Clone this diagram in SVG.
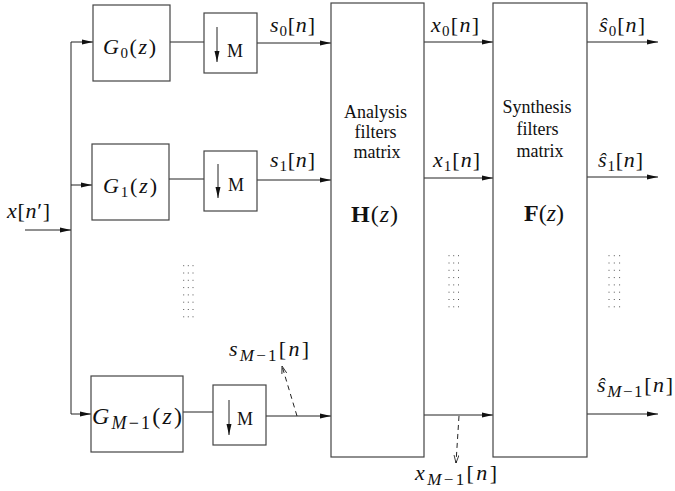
<svg xmlns="http://www.w3.org/2000/svg" width="675" height="491" viewBox="0 0 675 491">
<style>
.box{fill:#fff;stroke:#444;stroke-width:1.2}
.ln{fill:none;stroke:#222;stroke-width:1}
.dash{fill:none;stroke:#222;stroke-width:1;stroke-dasharray:5 4}
.dots{fill:none;stroke:#555;stroke-width:1;stroke-dasharray:1 6.3}
.m{font-family:"Liberation Serif","Times New Roman",serif;font-size:22px;fill:#111}
.i{font-style:italic}
.sub{font-size:15px}
.sub2{font-size:17px}
.t{font-family:"Liberation Serif","Times New Roman",serif;font-size:18px;fill:#111;text-anchor:middle}
.M{font-family:"Liberation Serif","Times New Roman",serif;font-size:18px;fill:#111}
</style>
<defs>
<marker id="ah" markerUnits="userSpaceOnUse" markerWidth="11" markerHeight="6" refX="11" refY="3" orient="auto">
<path d="M0,0.5 L11,3 L0,5.5 z" fill="#111"/>
</marker>
<marker id="oh" markerUnits="userSpaceOnUse" markerWidth="8" markerHeight="6" refX="8" refY="3" orient="auto">
<path d="M0,0.5 L8,3 L0,5.5" fill="none" stroke="#111" stroke-width="0.8"/>
</marker>
</defs>
<rect width="675" height="491" fill="#fff"/>

<g id="connectors">
<line class="ln" x1="25" y1="230" x2="71" y2="230" marker-end="url(#ah)"/>
<line class="ln" x1="71" y1="42" x2="71" y2="414"/>
<line class="ln" x1="71" y1="42" x2="93" y2="42" marker-end="url(#ah)"/>
<line class="ln" x1="71" y1="185" x2="92" y2="185" marker-end="url(#ah)"/>
<line class="ln" x1="71" y1="414" x2="91" y2="414" marker-end="url(#ah)"/>
<line class="ln" x1="170" y1="42" x2="204" y2="42"/>
<line class="ln" x1="169" y1="179" x2="204" y2="179"/>
<line class="ln" x1="183" y1="412" x2="213" y2="412"/>
<line class="ln" x1="257" y1="43" x2="331" y2="43" marker-end="url(#ah)"/>
<line class="ln" x1="257" y1="180" x2="331" y2="180" marker-end="url(#ah)"/>
<line class="ln" x1="266" y1="416" x2="331" y2="416" marker-end="url(#ah)"/>
<line class="ln" x1="424" y1="42" x2="493" y2="42" marker-end="url(#ah)"/>
<line class="ln" x1="424" y1="178" x2="493" y2="178" marker-end="url(#ah)"/>
<line class="ln" x1="424" y1="415" x2="493" y2="415" marker-end="url(#ah)"/>
<line class="ln" x1="587" y1="42" x2="658" y2="42" marker-end="url(#ah)"/>
<line class="ln" x1="587" y1="177" x2="658" y2="177" marker-end="url(#ah)"/>
<line class="ln" x1="587" y1="414" x2="658" y2="414" marker-end="url(#ah)"/>
<line class="dash" x1="297" y1="416" x2="282" y2="366" marker-end="url(#oh)"/>
<line class="dash" x1="459" y1="416" x2="456" y2="463" marker-end="url(#oh)"/>
</g>

<g id="node-G0">
<rect class="box" x="93" y="5" width="77" height="76"/>
<text class="m" x="103" y="54" textLength="53"><tspan class="i">G</tspan><tspan class="sub" dy="4">0</tspan><tspan dy="-4">(</tspan><tspan class="i">z</tspan>)</text>
</g>
<g id="node-G1">
<rect class="box" x="92" y="144" width="77" height="76"/>
<text class="m" x="103" y="193" textLength="54"><tspan class="i">G</tspan><tspan class="sub" dy="4">1</tspan><tspan dy="-4">(</tspan><tspan class="i">z</tspan>)</text>
</g>
<g id="node-GM1">
<rect class="box" x="91" y="376" width="92" height="76"/>
<text class="m" x="92" y="424" textLength="90" style="font-size:24px"><tspan class="i">G</tspan><tspan class="sub2" dy="5" style="font-size:18px"><tspan class="i">M</tspan>−1</tspan><tspan dy="-5">(</tspan><tspan class="i">z</tspan>)</text>
</g>

<g id="node-D0">
<rect class="box" x="204" y="13" width="53" height="60"/>
<line class="ln" x1="217" y1="27" x2="217" y2="62" marker-end="url(#ah)"/>
<text class="M" x="227" y="57">M</text>
</g>
<g id="node-D1">
<rect class="box" x="204" y="151" width="53" height="60"/>
<line class="ln" x1="218" y1="164" x2="218" y2="198" marker-end="url(#ah)"/>
<text class="M" x="228" y="191">M</text>
</g>
<g id="node-DM1">
<rect class="box" x="213" y="385" width="53" height="60"/>
<line class="ln" x1="229" y1="400" x2="229" y2="435" marker-end="url(#ah)"/>
<text class="M" x="237" y="425">M</text>
</g>

<g id="node-H">
<rect class="box" x="331" y="3" width="93" height="454"/>
<text class="t" x="375.5" y="118">Analysis</text>
<text class="t" x="375.5" y="138">filters</text>
<text class="t" x="377" y="158">matrix</text>
<text class="m" x="351" y="222" textLength="47" style="font-size:24px"><tspan font-weight="bold">H</tspan>(<tspan class="i">z</tspan>)</text>
</g>
<g id="node-F">
<rect class="box" x="493" y="3" width="94" height="454"/>
<text class="t" x="537" y="113">Synthesis</text>
<text class="t" x="537.5" y="135">filters</text>
<text class="t" x="540" y="157">matrix</text>
<text class="m" x="524" y="221" textLength="40" style="font-size:24px"><tspan font-weight="bold">F</tspan>(<tspan class="i">z</tspan>)</text>
</g>

<g id="labels">
<text class="m" x="7" y="218" textLength="43"><tspan class="i">x</tspan>[<tspan class="i">n</tspan>′]</text>
<text class="m" x="270" y="32" textLength="45"><tspan class="i">s</tspan><tspan class="sub" dy="4">0</tspan><tspan dy="-4">[</tspan><tspan class="i">n</tspan>]</text>
<text class="m" x="270" y="167" textLength="45"><tspan class="i">s</tspan><tspan class="sub" dy="4">1</tspan><tspan dy="-4">[</tspan><tspan class="i">n</tspan>]</text>
<text class="m" x="229" y="356" textLength="80"><tspan class="i">s</tspan><tspan class="sub2" dy="5"><tspan class="i">M</tspan>−1</tspan><tspan dy="-5">[</tspan><tspan class="i">n</tspan>]</text>
<text class="m" x="431" y="32" textLength="48"><tspan class="i">x</tspan><tspan class="sub" dy="4">0</tspan><tspan dy="-4">[</tspan><tspan class="i">n</tspan>]</text>
<text class="m" x="433" y="167" textLength="47"><tspan class="i">x</tspan><tspan class="sub" dy="4">1</tspan><tspan dy="-4">[</tspan><tspan class="i">n</tspan>]</text>
<text class="m" x="415" y="480" textLength="82"><tspan class="i">x</tspan><tspan class="sub2" dy="5"><tspan class="i">M</tspan>−1</tspan><tspan dy="-5">[</tspan><tspan class="i">n</tspan>]</text>
<text class="m" x="599" y="32" textLength="46"><tspan class="i">ŝ</tspan><tspan class="sub" dy="4">0</tspan><tspan dy="-4">[</tspan><tspan class="i">n</tspan>]</text>
<text class="m" x="598" y="167" textLength="45"><tspan class="i">ŝ</tspan><tspan class="sub" dy="4">1</tspan><tspan dy="-4">[</tspan><tspan class="i">n</tspan>]</text>
<text class="m" x="597" y="392" textLength="76"><tspan class="i">ŝ</tspan><tspan class="sub2" dy="5"><tspan class="i">M</tspan>−1</tspan><tspan dy="-5">[</tspan><tspan class="i">n</tspan>]</text>
</g>

<g id="dots">
<path class="dots" d="M183.7,265.2V318M188.3,265.2V318M193,265.2V318"/>
<path class="dots" d="M449,255.2V308M453.7,255.2V308M458.5,255.2V308"/>
<path class="dots" d="M609,255.2V308M614.3,255.2V308M619.6,255.2V308"/>
</g>
</svg>
